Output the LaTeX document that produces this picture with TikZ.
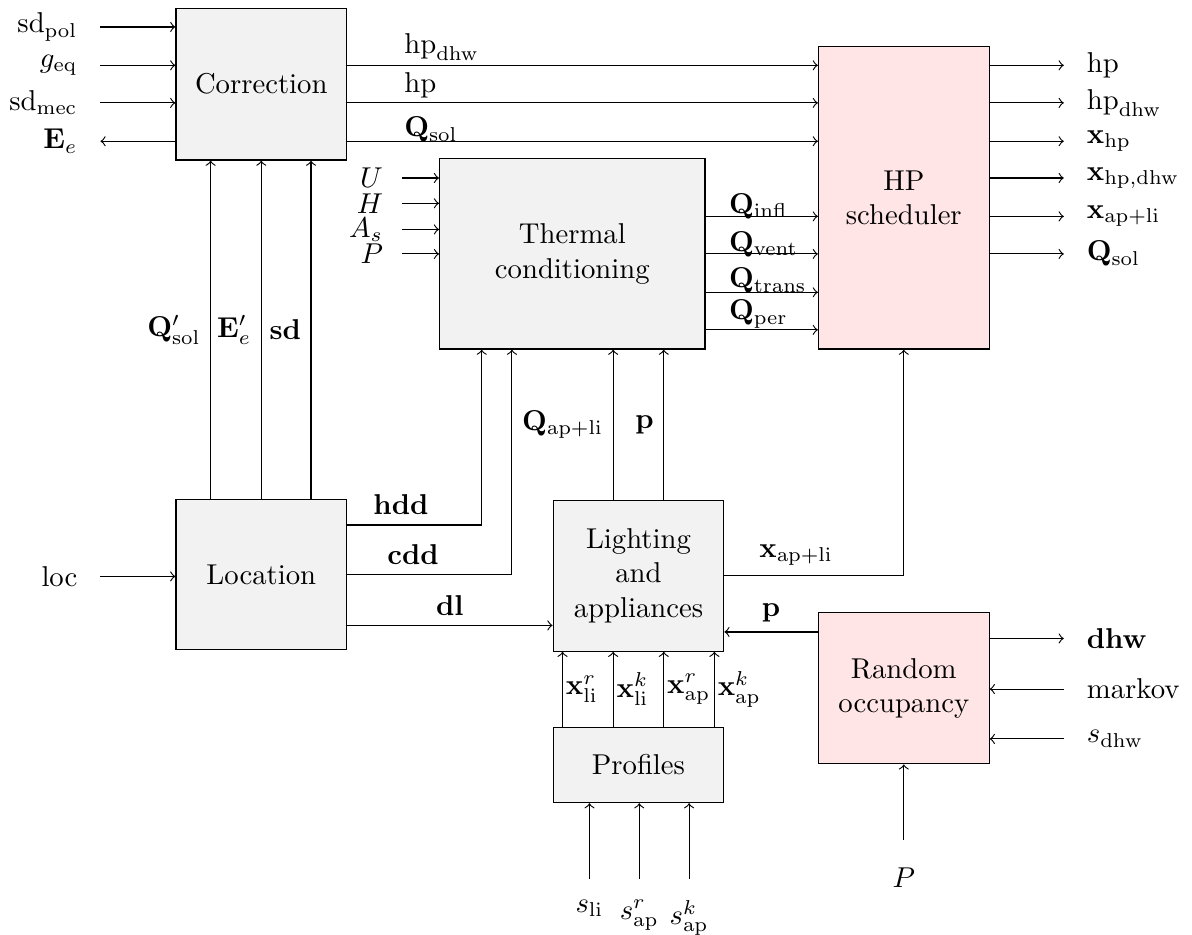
\documentclass[tikz,border=0pt]{standalone}
\usepackage{amsmath}
\begin{document}
\begin{tikzpicture}
	\useasboundingbox (0,0) rectangle (14.60,-11.45);
	\tikzset{box/.style={draw,fill=gray!10,align=center,minimum width=2.09cm},
		pinkbox/.style={box,fill=red!10},
		lab/.style={anchor=base west}}
	% blocks
	\node[box,minimum height=1.86cm] (corr) at (3.20,-1.03) {Correction};
	\node[box,minimum width=3.25cm,minimum height=2.33cm] (therm) at (7.01,-3.11) {Thermal\\conditioning};
	\node[pinkbox,minimum height=3.71cm] (hp) at (11.07,-2.42) {HP\\scheduler};
	\node[box,minimum height=1.84cm] (loc) at (3.20,-7.04) {Location};
	\node[box,minimum height=1.85cm] (light) at (7.82,-7.05) {Lighting\\and\\appliances};
	\node[box,minimum height=0.92cm] (prof) at (7.82,-9.37) {Profiles};
	\node[pinkbox,minimum height=1.85cm] (rand) at (11.07,-8.43) {Random\\occupancy};
	% free ends
	\coordinate (sdpol) at (1.23,-0.33);
	\coordinate (geq) at (1.23,-0.80);
	\coordinate (sdmec) at (1.23,-1.26);
	\coordinate (ee) at (1.23,-1.73);
	\coordinate (uin) at (4.92,-2.18);
	\coordinate (hin) at (4.92,-2.49);
	\coordinate (asin) at (4.92,-2.81);
	\coordinate (pin) at (4.92,-3.11);
	\coordinate (locin) at (1.23,-7.06);
	\coordinate (hpout) at (13.03,-0.80);
	\coordinate (hpdhwout) at (13.03,-1.26);
	\coordinate (xhpout) at (13.03,-1.73);
	\coordinate (xhpdhwout) at (13.03,-2.18);
	\coordinate (xapliout) at (13.03,-2.65);
	\coordinate (qsolout) at (13.03,-3.11);
	\coordinate (dhwout) at (13.03,-7.82);
	\coordinate (markovin) at (13.03,-8.44);
	\coordinate (sdhwin) at (13.03,-9.05);
	\coordinate (prand) at (11.07,-10.29);
	\coordinate (sli) at (7.22,-10.76);
	\coordinate (sapr) at (7.83,-10.76);
	\coordinate (sapk) at (8.44,-10.76);
	% inputs of correction
	\draw[->] (sdpol) node[left=4.5pt]{$\mathrm{sd}_{\mathrm{pol}}$} -- (sdpol -| corr.west);
	\draw[->] (geq) node[left=4.5pt]{$g_{\mathrm{eq}}$} -- (geq -| corr.west);
	\draw[->] (sdmec) node[left=4.5pt]{$\mathrm{sd}_{\mathrm{mec}}$} -- (sdmec -| corr.west);
	\draw[<-] (ee) node[left=4.5pt]{$\mathbf{E}_e$} -- (ee -| corr.west);
	% correction to scheduler
	\draw[->] (corr.east |- geq) -- node[pos=0.1,lab,yshift=4pt]{$\mathrm{hp}_{\mathrm{dhw}}$} (hp.west |- geq);
	\draw[->] (corr.east |- sdmec) -- node[pos=0.1,lab,yshift=3.5pt]{$\mathrm{hp}$} (hp.west |- sdmec);
	\draw[->] (corr.east |- ee) -- node[pos=0.1,lab,yshift=1.5pt]{$\mathbf{Q}_{\mathrm{sol}}$} (hp.west |- ee);
	% inputs of thermal conditioning
	\draw[->] (uin) node[left=3pt]{$U$} -- (uin -| therm.west);
	\draw[->] (hin) node[left=3pt]{$H$} -- (hin -| therm.west);
	\draw[->] (asin) node[left=3pt]{$A_s$} -- (asin -| therm.west);
	\draw[->] (pin) node[left=3pt]{$P$} -- (pin -| therm.west);
	% thermal conditioning to scheduler
	\draw[->] (therm.east |- xapliout) -- node[pos=0.12,lab,yshift=1pt]{$\mathbf{Q}_{\mathrm{infl}}$} (hp.west |- xapliout);
	\draw[->] (therm.east |- qsolout) -- node[pos=0.12,lab,yshift=1pt]{$\mathbf{Q}_{\mathrm{vent}}$} (hp.west |- qsolout);
	\draw[->] ([yshift=-0.47cm]therm.east) -- node[pos=0.12,lab,yshift=1.5pt]{$\mathbf{Q}_{\mathrm{trans}}$} ([yshift=-0.47cm]therm.east -| hp.west);
	\draw[->] ([yshift=-0.93cm]therm.east) -- node[pos=0.12,lab,yshift=3.5pt]{$\mathbf{Q}_{\mathrm{per}}$} ([yshift=-0.93cm]therm.east -| hp.west);
	% outputs of scheduler
	\draw[->] (hp.east |- hpout) -- (hpout) node[right=4.5pt]{$\mathrm{hp}$};
	\draw[->] (hp.east |- hpdhwout) -- (hpdhwout) node[right=4.5pt]{$\mathrm{hp}_{\mathrm{dhw}}$};
	\draw[->] (hp.east |- xhpout) -- (xhpout) node[right=4.5pt]{$\mathbf{x}_{\mathrm{hp}}$};
	\draw[->] (hp.east |- xhpdhwout) -- (xhpdhwout) node[right=4.5pt]{$\mathbf{x}_{\mathrm{hp,dhw}}$};
	\draw[->] (hp.east |- xapliout) -- (xapliout) node[right=4.5pt]{$\mathbf{x}_{\mathrm{ap+li}}$};
	\draw[->] (hp.east |- qsolout) -- (qsolout) node[right=4.5pt]{$\mathbf{Q}_{\mathrm{sol}}$};
	% location
	\draw[->] (locin) node[left=4.5pt]{loc} -- (locin -| loc.west);
	\draw[->] ([xshift=-0.62cm]loc.north) -- node[left]{$\mathbf{Q}'_{\mathrm{sol}}$} ([xshift=-0.62cm]loc.north |- corr.south);
	\draw[->] (loc.north) -- node[left]{$\mathbf{E}'_e$} (loc.north |- corr.south);
	\draw[->] ([xshift=0.61cm]loc.north) -- node[left]{$\mathbf{sd}$} ([xshift=0.61cm]loc.north |- corr.south);
	\draw[->] ([yshift=0.61cm]loc.east) -| node[pos=0.2,above]{$\mathbf{hdd}$} ([xshift=-1.11cm]therm.south);
	\draw[->] (loc.east) -| node[pos=0.2,above]{$\mathbf{cdd}$} ([xshift=-0.74cm]therm.south);
	\draw[->] ([yshift=-0.62cm]loc.east) -- node[above]{$\mathbf{dl}$} ([yshift=-0.62cm]loc.east -| light.west);
	% lighting and appliances
	\draw[->] ([xshift=-0.31cm]light.north) -- node[left]{$\mathbf{Q}_{\mathrm{ap+li}}$} ([xshift=-0.31cm]light.north |- therm.south);
	\draw[->] ([xshift=0.31cm]light.north) -- node[left]{$\mathbf{p}$} ([xshift=0.31cm]light.north |- therm.south);
	\draw[->] (light.east) -| node[pos=0.2,above]{$\mathbf{x}_{\mathrm{ap+li}}$} (hp.south);
	% profiles
	\draw[->] ([xshift=-0.93cm]prof.north) -- node[right,inner sep=1pt]{$\mathbf{x}^r_{\mathrm{li}}$} ([xshift=-0.93cm]prof.north |- light.south);
	\draw[->] ([xshift=-0.31cm]prof.north) -- node[right,inner sep=1pt]{$\mathbf{x}^k_{\mathrm{li}}$} ([xshift=-0.31cm]prof.north |- light.south);
	\draw[->] ([xshift=0.31cm]prof.north) -- node[right,inner sep=1pt]{$\mathbf{x}^r_{\mathrm{ap}}$} ([xshift=0.31cm]prof.north |- light.south);
	\draw[->] ([xshift=0.93cm]prof.north) -- node[right,inner sep=1pt]{$\mathbf{x}^k_{\mathrm{ap}}$} ([xshift=0.93cm]prof.north |- light.south);
	\draw[->] (sli) node[below=4pt]{$s_{\mathrm{li}}$} -- (sli |- prof.south);
	\draw[->] (sapr) node[below=4pt]{$s^r_{\mathrm{ap}}$} -- (sapr |- prof.south);
	\draw[->] (sapk) node[below=4pt]{$s^k_{\mathrm{ap}}$} -- (sapk |- prof.south);
	% random occupancy
	\draw[->] ([yshift=0.69cm]rand.west) -- node[above]{$\mathbf{p}$} ([yshift=0.69cm]rand.west -| light.east);
	\draw[->] (rand.east |- dhwout) -- (dhwout) node[right=4.5pt]{$\mathbf{dhw}$};
	\draw[<-] (rand.east |- markovin) -- (markovin) node[right=4.5pt]{markov};
	\draw[<-] (rand.east |- sdhwin) -- (sdhwin) node[right=4.5pt]{$s_{\mathrm{dhw}}$};
	\draw[->] (prand) node[below=6pt]{$P$} -- (rand.south);
\end{tikzpicture}
\end{document}
